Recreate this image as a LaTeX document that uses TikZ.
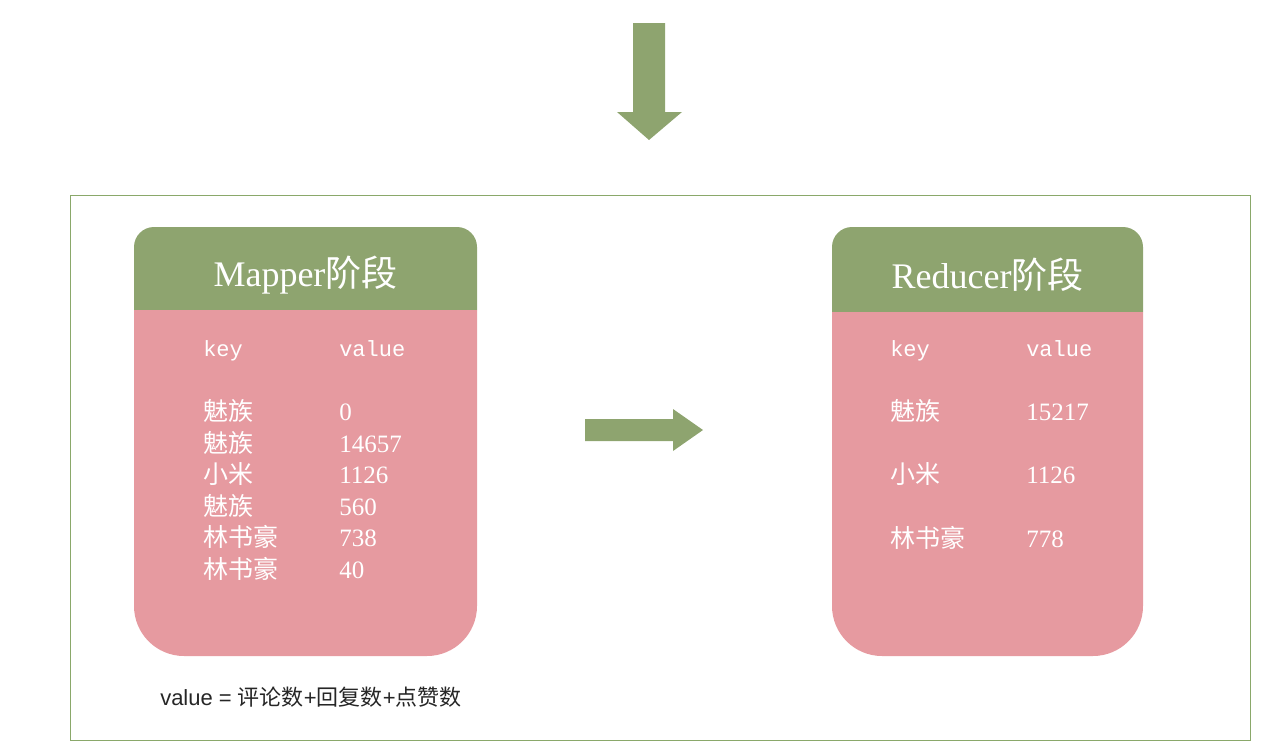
\documentclass[tikz,border=0pt]{standalone}
\usepackage{fontspec}
\setmainfont{Liberation Serif}
\newfontfamily\cjk{Noto Sans CJK SC}
\newfontfamily\keyfont{Liberation Mono}
\newfontfamily\notelatin{Liberation Sans}
\definecolor{stagegreen}{HTML}{8EA46F}
\definecolor{stagepink}{HTML}{E69AA0}
\definecolor{framegreen}{HTML}{8AA86A}
\definecolor{notegray}{HTML}{262626}

\begin{document}
\begin{tikzpicture}[x=0.75pt, y=-0.75pt,
		stagetitle/.style={text=white, font=\fontsize{27}{30}\selectfont},
		colhead/.style={anchor=base west, inner sep=0pt, text=white, font=\keyfont\fontsize{16.5}{18}\selectfont},
		cell/.style={anchor=base west, inner sep=0pt, text=white, font=\fontsize{18.75}{20}\selectfont}]
		\useasboundingbox (0,0) rectangle (1268,747);

		% --- outer frame ---
		\draw[framegreen, line width=0.75pt] (70,195) rectangle (1250,740);

		% --- incoming arrow (top) ---
		\fill[stagegreen] (633,23) -- (665,23) -- (665,112) -- (682,112) -- (649,140) -- (617,112) -- (633,112) -- cycle;

		% --- stage boxes: green header with small top rounding, pink body with large bottom rounding ---
		\foreach \xa/\xb/\ym in {134/477/310, 832/1143/312} {
			\fill[stagegreen] (\xa,\ym) -- (\xa,247) arc[start angle=180, end angle=90, radius=15pt]
				-- ({\xb-20},227) arc[start angle=90, end angle=0, radius=15pt] -- (\xb,\ym) -- cycle;
			\fill[stagepink] (\xa,\ym) -- (\xa,606) arc[start angle=180, end angle=270, radius=37.5pt]
				-- ({\xb-50},656) arc[start angle=270, end angle=360, radius=37.5pt] -- (\xb,\ym) -- cycle;
		}

		% --- stage titles ---
		\node[stagetitle] (mapperTitle) at (305.5,275) {Mapper{\cjk 阶段}};
		\node[stagetitle] (reducerTitle) at (987.5,275) {Reducer{\cjk 阶段}};

		% --- column heads ---
		\node[colhead] (mapKey) at (203,356) {key};
		\node[colhead] (mapValue) at (339,356) {value};
		\node[colhead] (redKey) at (890,356) {key};
		\node[colhead] (redValue) at (1026,356) {value};

		% --- mapper rows ---
		\foreach \k/\v/\yy in {魅族/0/420, 魅族/14657/452, 小米/1126/483, 魅族/560/515, 林书豪/738/546, 林书豪/40/578} {
			\node[cell] at (203,\yy) {\cjk \k};
			\node[cell] at (339,\yy) {\v};
		}

		% --- reducer rows ---
		\foreach \k/\v/\yy in {魅族/15217/420, 小米/1126/483, 林书豪/778/547} {
			\node[cell] at (890,\yy) {\cjk \k};
			\node[cell] at (1026,\yy) {\v};
		}

		% --- shuffle arrow between stages ---
		\fill[stagegreen] (585,419) -- (673,419) -- (673,409) -- (703,430) -- (673,451) -- (673,441) -- (585,441) -- cycle;

		% --- note under mapper box ---
		\node[anchor=base west, inner sep=0pt, text=notegray, font=\fontsize{16.5}{19}\selectfont] (valueNote) at (160,705)
			{{\notelatin value = }{\cjk 评论数}{\notelatin +}{\cjk 回复数}{\notelatin +}{\cjk 点赞数}};
	\end{tikzpicture}
\end{document}
